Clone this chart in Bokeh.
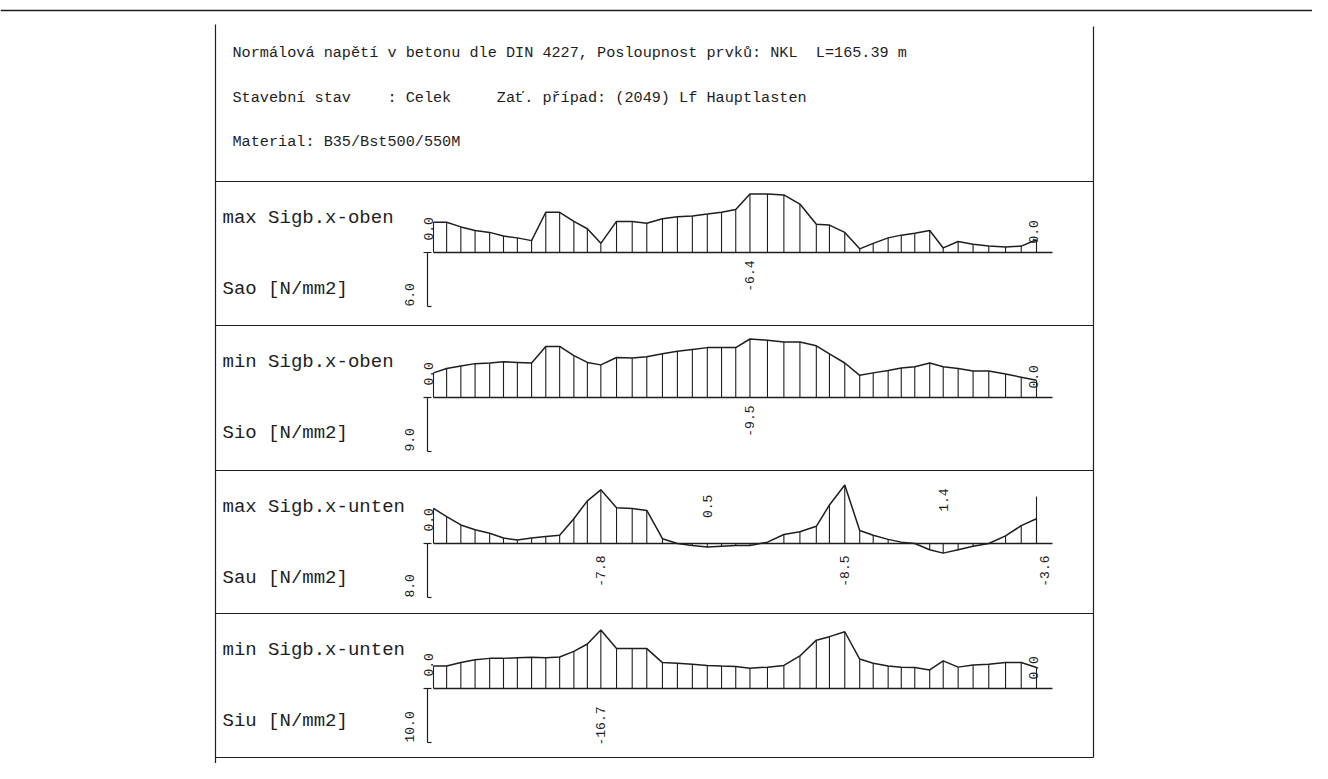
import math
from bokeh.plotting import figure
from bokeh.models import Range1d
from bokeh.embed import file_html
from bokeh.resources import INLINE
from bokeh.core.properties import value

# ---------------- data ----------------
L_TOTAL = 165.39  # m

stations = [0.0, 3.6, 7.5, 11.4, 15.4, 19.2, 23.0, 26.9, 30.8, 34.6, 38.5, 42.2,
            45.9, 50.2, 54.5, 58.5, 62.8, 66.9, 71.0, 75.1, 79.0, 82.9, 86.8, 91.6,
            96.1, 100.5, 105.0, 108.6, 112.8, 116.9, 120.6, 124.7, 128.3, 132.0,
            136.1, 139.8, 143.9, 148.0, 152.3, 156.9, 161.2, 165.39]

sao_max = [-3.3, -3.3, -2.8, -2.4, -2.2, -1.8, -1.6, -1.3, -4.4, -4.4, -3.4, -2.6,
           -1.0, -3.4, -3.4, -3.2, -3.7, -3.9, -4.0, -4.2, -4.4, -4.7, -6.4, -6.4,
           -6.3, -5.3, -3.1, -3.0, -2.2, -0.4, -1.0, -1.6, -1.9, -2.1, -2.4, -0.5,
           -1.2, -0.9, -0.7, -0.6, -0.7, -1.4]

sio_min = [-4.0, -4.7, -5.1, -5.5, -5.6, -5.8, -5.7, -5.6, -8.3, -8.3, -6.8, -5.7,
           -5.3, -6.5, -6.4, -6.6, -7.1, -7.5, -7.8, -8.1, -8.1, -8.1, -9.5, -9.3,
           -9.0, -9.0, -8.4, -7.1, -5.6, -3.6, -4.0, -4.4, -4.8, -5.0, -5.6, -5.0,
           -4.7, -4.3, -4.3, -3.8, -3.3, -2.8]

sau_max = [-5.1, -3.9, -2.7, -2.0, -1.5, -0.8, -0.5, -0.8, -1.0, -1.2, -3.6, -6.2,
           -7.8, -5.2, -5.1, -4.8, -0.7, 0.0, 0.3, 0.5, 0.4, 0.3, 0.3, -0.2,
           -1.3, -1.7, -2.5, -5.6, -8.5, -1.9, -1.2, -0.6, -0.2, 0.0, 0.9, 1.4,
           0.9, 0.4, 0.0, -1.1, -2.6, -3.6]

siu_min = [-6.4, -6.4, -7.4, -8.2, -8.6, -8.6, -8.8, -8.9, -8.8, -9.0, -10.6, -12.7,
           -16.7, -11.4, -11.4, -11.4, -7.4, -7.2, -6.9, -6.6, -6.4, -6.3, -5.8, -6.1,
           -6.6, -9.3, -13.8, -14.8, -16.2, -8.4, -7.2, -6.4, -6.1, -6.0, -5.3, -7.9,
           -6.1, -6.7, -6.9, -7.4, -7.4, -6.0]

panel_titles = ["max Sigb.x-oben", "min Sigb.x-oben", "max Sigb.x-unten", "min Sigb.x-unten"]
panel_units = ["Sao [N/mm2]", "Sio [N/mm2]", "Sau [N/mm2]", "Siu [N/mm2]"]
panel_values = [sao_max, sio_min, sau_max, siu_min]
scale_labels = ["6.0", "9.0", "8.0", "10.0"]
labelled_stations = [[22], [22], [12, 19, 28, 35, 41], [12]]
end_labels = [["0.0", "0.0"], ["0.0", "0.0"], ["0.0", None], ["0.0", "0.0"]]

NB = "\u00a0"
header_lines = [
    "Normálová napětí v betonu dle DIN 4227, Posloupnost prvků: NKL" + NB * 2 + "L=165.39 m",
    "Stavební stav" + NB * 4 + ": Celek" + NB * 5 + "Zať. případ: (2049) Lf Hauptlasten",
    "Material: B35/Bst500/550M",
]

# ---------------- layout (picture pixels) ----------------
W, H = 1312, 763
PX0, PY0 = 0, 0
X_FIRST, X_LAST = 433.0, 1036.0
BASE_END = 1052.0
FRAME_L, FRAME_R = 215.0, 1093.0
SEPS = [181.0, 325.0, 470.0, 613.0, 757.0]
BASES = [252.0, 397.0, 543.0, 688.0]
DIAG_PX = 58.5
BAR_X, BAR_LEN = 427.0, 54.0
HEAD_Y = [52.0, 97.0, 141.0]
NEG_OFF = [8, 8, 12, 18]

INK = "#1e1e1e"
FONT = "Liberation Mono"

p = figure(width=W, height=H, x_range=Range1d(PX0, PX0 + W), y_range=Range1d(PY0 + H, PY0),
           x_axis_location=None, y_axis_location=None, output_backend="svg",
           toolbar_location=None, min_border=0)
p.grid.visible = False
p.outline_line_color = None
p.background_fill_color = "white"
p.border_fill_color = "white"

KX = (X_LAST - X_FIRST) / L_TOTAL
p.extra_x_ranges = {"m": Range1d((PX0 - X_FIRST) / KX, (PX0 + W - X_FIRST) / KX)}

# frame
p.line([PX0, PX0 + W], [10, 10], line_color=INK, line_width=1.3)
p.line([FRAME_L, FRAME_L], [24, PY0 + H], line_color=INK, line_width=1.2)
p.line([FRAME_R, FRAME_R], [26, SEPS[-1]], line_color=INK, line_width=1.2)
p.segment(x0=[FRAME_L] * len(SEPS), y0=SEPS, x1=[FRAME_R] * len(SEPS), y1=SEPS,
          line_color=INK, line_width=1.2)

# header text
p.text(x=[232] * 3, y=HEAD_Y, text=header_lines, text_font=value(FONT),
       text_font_size="15.2px", text_baseline="middle", text_align="left", text_color=INK)

for i, vals in enumerate(panel_values):
    b = BASES[i]
    sep = SEPS[i]
    k = DIAG_PX / max(abs(v) for v in vals)
    rname = f"s{i}"
    p.extra_y_ranges[rname] = Range1d((PY0 + H - b) / k, (PY0 - b) / k)

    # titles
    p.text(x=[222, 222], y=[sep + 36, sep + 107], text=[panel_titles[i], panel_units[i]],
           text_font=value(FONT), text_font_size="19px", text_baseline="middle",
           text_align="left", text_color=INK)

    # baseline
    p.line([X_FIRST, BASE_END], [b, b], line_color=INK, line_width=1.4)
    # ordinates
    p.segment(x0=stations, y0=0, x1=stations, y1=vals, x_range_name="m", y_range_name=rname,
              line_color=INK, line_width=1.1)
    # outline of the diagram
    p.line(stations, vals, x_range_name="m", y_range_name=rname, line_color=INK, line_width=1.5)

    # scale bar
    p.line([BAR_X, BAR_X], [b, b + BAR_LEN], line_color=INK, line_width=1.2)
    p.segment(x0=[BAR_X - 4, BAR_X], y0=[b, b + BAR_LEN], x1=[BAR_X + 4, BAR_X + 4],
              y1=[b, b + BAR_LEN], line_color=INK, line_width=1.2)
    p.text(x=[BAR_X - 18], y=[b + BAR_LEN], text=[scale_labels[i]], angle=math.pi / 2,
           text_font=value(FONT), text_font_size="13px", text_baseline="middle",
           text_align="left", text_color=INK)

    # end labels
    left_lbl, right_lbl = end_labels[i]
    if left_lbl:
        p.text(x=[stations[0]], y=[b - 12], text=[left_lbl], x_range_name="m", angle=math.pi / 2,
               x_offset=-5, text_font=value(FONT), text_font_size="13px",
               text_baseline="middle", text_align="left", text_color=INK)
    if right_lbl:
        p.text(x=[stations[-1]], y=[b - 9], text=[right_lbl], x_range_name="m", angle=math.pi / 2,
               x_offset=-3, text_font=value(FONT), text_font_size="13px",
               text_baseline="middle", text_align="left", text_color=INK)

    # extreme value labels
    for j in labelled_stations[i]:
        v = vals[j]
        txt = f"{v:.1f}"
        dx = 8 if j == len(stations) - 1 else 0
        if v < 0:
            p.text(x=[stations[j]], y=[b + NEG_OFF[i]], text=[txt], x_range_name="m",
                   x_offset=dx, angle=math.pi / 2, text_font=value(FONT), text_font_size="13px",
                   text_baseline="middle", text_align="right", text_color=INK)
        else:
            p.text(x=[stations[j]], y=[b - 22 - v * k], text=[txt], x_range_name="m",
                   x_offset=dx, angle=math.pi / 2, text_font=value(FONT), text_font_size="13px",
                   text_baseline="middle", text_align="left", text_color=INK)

# end post on the lower-fibre max diagram
p.segment(x0=[stations[-1]], y0=[BASES[2]], x1=[stations[-1]], y1=[BASES[2] - 47],
          x_range_name="m", line_color=INK, line_width=1.1)

open("out.html", "w").write(file_html(p, INLINE))
